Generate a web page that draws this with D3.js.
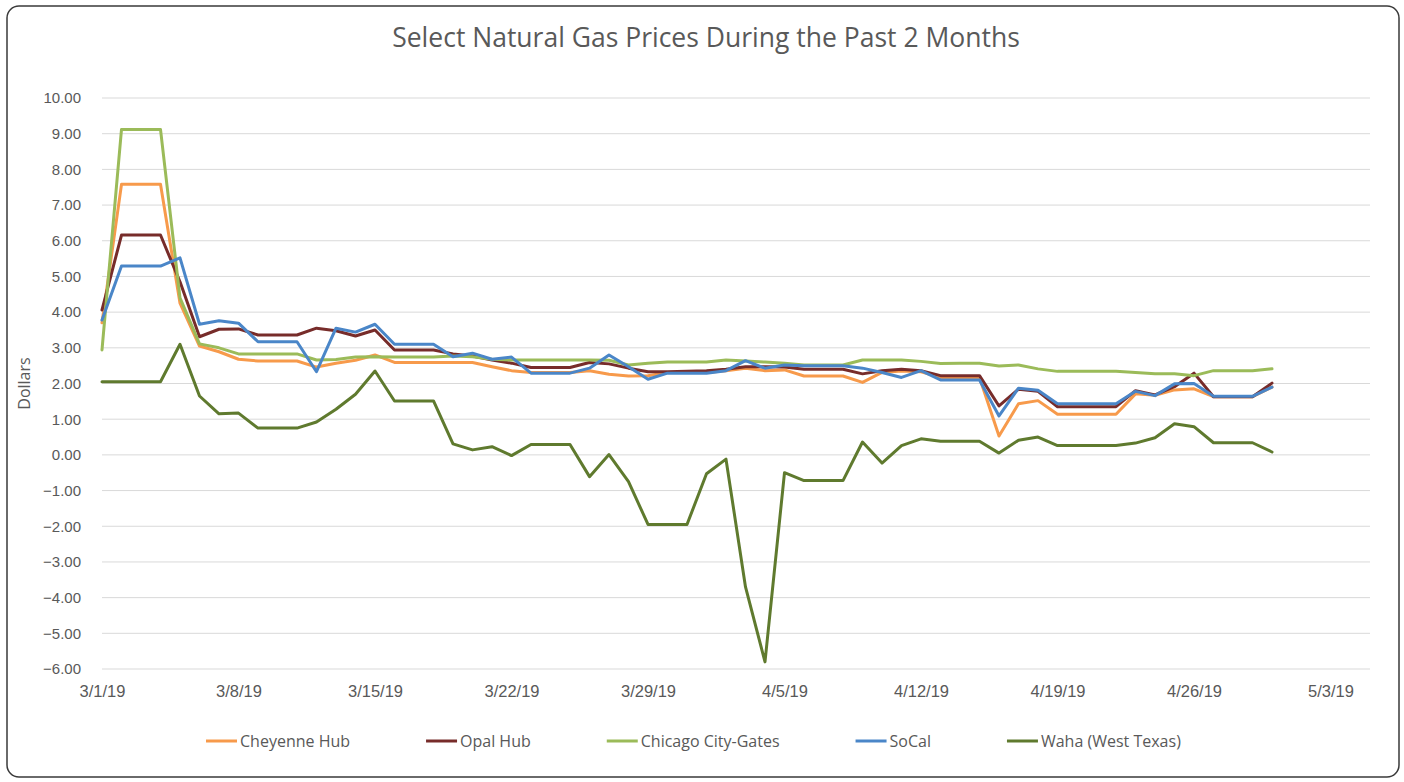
<!DOCTYPE html>
<html>
<head>
<meta charset="utf-8">
<script src="https://cdn.jsdelivr.net/npm/d3@7"></script>
<style>
  html,body{margin:0;padding:0;background:#fff;}
  svg{display:block;font-family:"Open Sans","Noto Sans",sans-serif;}
</style>
</head>
<body>
<svg id="chart" width="1404" height="782"></svg>
<script>
/* ---------- DATA ---------- */
const TITLE="Select Natural Gas Prices During the Past 2 Months";
const Y_TITLE="Dollars";
// one value per calendar day, 3/1/19 .. 4/30/19
const DATES=d3.timeDay.range(new Date(2019,2,1),new Date(2019,4,1));
const TICK_DATES=["2019-03-01","2019-03-08","2019-03-15","2019-03-22","2019-03-29",
                  "2019-04-05","2019-04-12","2019-04-19","2019-04-26","2019-05-03"];
const Y_TICKS=[-6,-5,-4,-3,-2,-1,0,1,2,3,4,5,6,7,8,9,10];

const SERIES_NAMES=["Cheyenne Hub","Opal Hub","Chicago City-Gates","SoCal","Waha (West Texas)"];
const SERIES_COLORS=["#F79A4B","#772C2A","#9BBB59","#4A86C8","#5F7A2E"];

const cheyenne=[3.70,7.58,7.58,7.58,4.25,3.05,2.89,2.68,2.63,2.63,2.63,2.46,2.57,2.65,2.80,
  2.59,2.59,2.59,2.59,2.59,2.47,2.36,2.31,2.31,2.31,2.36,2.26,2.21,2.22,2.31,
  2.31,2.31,2.36,2.43,2.36,2.38,2.21,2.21,2.21,2.03,2.31,2.35,2.33,2.17,2.17,
  2.17,0.53,1.43,1.52,1.14,1.14,1.14,1.14,1.71,1.67,1.82,1.85,1.63,1.63,1.63,1.90];
const opal=[4.06,6.16,6.16,6.16,4.85,3.31,3.52,3.53,3.36,3.36,3.36,3.55,3.48,3.33,3.50,
  2.94,2.94,2.94,2.83,2.77,2.66,2.57,2.45,2.45,2.45,2.59,2.55,2.43,2.33,2.33,
  2.34,2.36,2.40,2.47,2.47,2.46,2.40,2.40,2.40,2.27,2.36,2.40,2.36,2.22,2.22,
  2.22,1.37,1.84,1.78,1.35,1.35,1.35,1.35,1.80,1.68,1.91,2.29,1.63,1.63,1.63,2.01];
const chicago=[2.94,9.12,9.12,9.12,4.40,3.11,3.00,2.83,2.83,2.83,2.83,2.66,2.67,2.74,2.75,
  2.74,2.74,2.74,2.77,2.75,2.68,2.66,2.66,2.66,2.66,2.66,2.65,2.52,2.57,2.60,
  2.60,2.60,2.66,2.63,2.60,2.57,2.52,2.52,2.52,2.66,2.66,2.66,2.62,2.56,2.57,
  2.57,2.49,2.52,2.41,2.34,2.34,2.34,2.34,2.31,2.27,2.27,2.22,2.36,2.36,2.36,2.41];
const socal=[3.78,5.29,5.29,5.29,5.52,3.66,3.76,3.69,3.17,3.17,3.17,2.33,3.55,3.44,3.66,
  3.10,3.10,3.10,2.75,2.85,2.68,2.74,2.29,2.29,2.29,2.43,2.80,2.47,2.12,2.29,
  2.29,2.29,2.36,2.64,2.43,2.52,2.50,2.50,2.50,2.43,2.31,2.17,2.36,2.10,2.10,
  2.10,1.09,1.87,1.81,1.43,1.43,1.43,1.43,1.78,1.66,1.99,2.00,1.64,1.64,1.64,1.90];
const waha=[2.05,2.05,2.05,2.05,3.10,1.65,1.15,1.17,0.75,0.75,0.75,0.92,1.28,1.70,2.35,
  1.51,1.51,1.51,0.31,0.14,0.23,-0.02,0.29,0.29,0.29,-0.61,0.01,-0.75,-1.95,-1.95,
  -1.95,-0.53,-0.12,-3.70,-5.80,-0.50,-0.72,-0.72,-0.72,0.36,-0.23,0.26,0.45,0.38,0.38,
  0.38,0.05,0.41,0.50,0.26,0.26,0.26,0.26,0.33,0.48,0.87,0.79,0.34,0.34,0.34,0.08];
const SERIES_VALUES=[cheyenne,opal,chicago,socal,waha];

/* ---------- LAYOUT ---------- */
const PLOT={left:102,right:1370,top:98,bottom:669};
const TEXT_COL="#595959", GRID_COL="#D9D9D9";

const svg=d3.select("#chart");

/* frame */
svg.append("rect").attr("x",7).attr("y",6).attr("width",1392).attr("height",771)
   .attr("rx",12).attr("fill","#fff").attr("stroke","#3a3a3a").attr("stroke-width",1.5);

/* title */
svg.append("text").attr("x",706).attr("y",47).attr("text-anchor","middle")
   .attr("fill",TEXT_COL).style("font-size","26.5px").text(TITLE);

/* scales */
const parse=d3.timeParse("%Y-%m-%d");
const x=d3.scaleTime().domain([parse(TICK_DATES[0]),parse(TICK_DATES[TICK_DATES.length-1])])
          .range([PLOT.left,1330.5]);
const y=d3.scaleLinear().domain([-6,10]).range([PLOT.bottom,PLOT.top]);

/* gridlines */
svg.append("g").selectAll("line").data(Y_TICKS).join("line")
   .attr("x1",PLOT.left).attr("x2",PLOT.right)
   .attr("y1",d=>y(d)).attr("y2",d=>y(d))
   .attr("stroke",GRID_COL).attr("stroke-width",1);

/* y axis labels */
const yAx=svg.append("g").attr("transform",`translate(${PLOT.left-18},0)`)
   .call(d3.axisLeft(y).tickValues(Y_TICKS).tickFormat(d3.format(".2f")).tickSize(0));
yAx.select(".domain").remove();
yAx.selectAll("text").attr("fill",TEXT_COL).style("font-size","15px").style("font-family","inherit");

/* x axis labels */
const xAx=svg.append("g").attr("transform",`translate(0,${PLOT.bottom+13})`)
   .call(d3.axisBottom(x).tickValues(TICK_DATES.map(parse))
          .tickFormat(d3.timeFormat("%-m/%-d/%y")).tickSize(0));
xAx.select(".domain").remove();
xAx.selectAll("text").attr("fill",TEXT_COL).style("font-size","16.5px").style("font-family","inherit");

/* y title */
svg.append("text").attr("transform",`translate(30,${(PLOT.top+PLOT.bottom)/2}) rotate(-90)`)
   .attr("text-anchor","middle").attr("fill",TEXT_COL).style("font-size","16px").text(Y_TITLE);

/* lines */
const line=d3.line().x((d,i)=>x(DATES[i])).y(d=>y(d));
SERIES_VALUES.forEach((vals,i)=>{
  svg.append("path").datum(vals).attr("d",line)
     .attr("fill","none").attr("stroke",SERIES_COLORS[i])
     .attr("stroke-width",3).attr("stroke-linejoin","round").attr("stroke-linecap","round");
});

/* legend */
const lg=svg.append("g").attr("transform","translate(0,741)");
let lx=206;
SERIES_NAMES.forEach((n,i)=>{
  const it=lg.append("g").attr("transform",`translate(${lx},0)`);
  it.append("line").attr("x1",0).attr("x2",31).attr("stroke",SERIES_COLORS[i]).attr("stroke-width",3);
  const t=it.append("text").attr("x",34).attr("dy","0.35em").attr("fill",TEXT_COL)
     .style("font-size","16px").text(n);
  lx+=34+t.node().getComputedTextLength()+76;
});
</script>
</body>
</html>
